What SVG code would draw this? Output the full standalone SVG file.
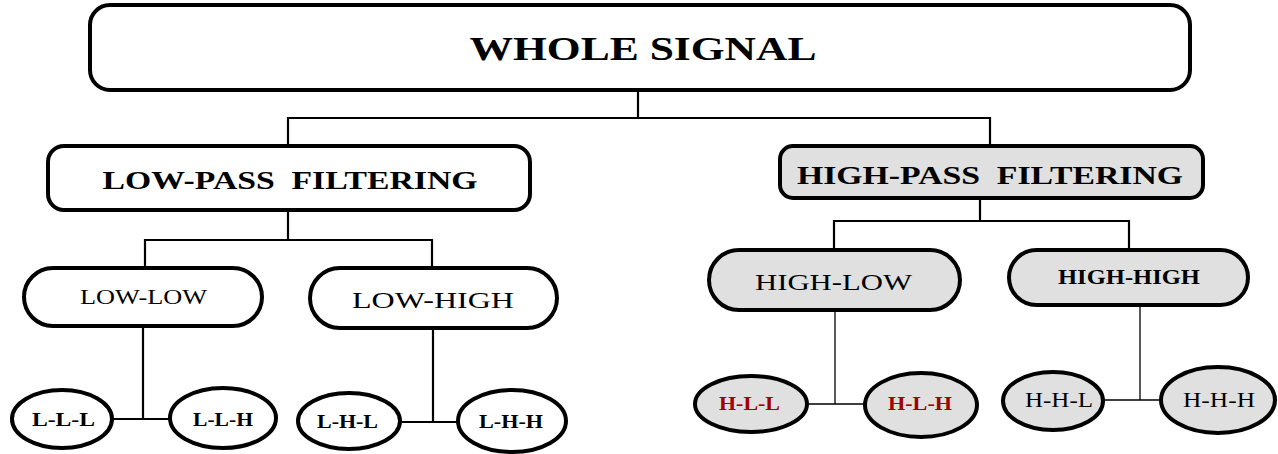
<svg xmlns="http://www.w3.org/2000/svg" width="1278" height="454" viewBox="0 0 1278 454">
<style>
.box{fill:#fff;stroke:#000;stroke-width:4}
.gray{fill:#e0e0e0}
.t{font-family:"Liberation Serif","Times New Roman",serif;text-anchor:middle;fill:#000;white-space:pre}
.b{font-weight:bold}
.red{fill:#a00000}
.c{fill:none;stroke:#000;stroke-width:2.2}
.thin{fill:none;stroke:#000;stroke-width:1.3}
</style>
<rect width="1278" height="454" fill="#fff"/>
<g id="connectors">
<path class="c" d="M638 90V118M288 145V118H990V145"/>
<path class="c" d="M288 210V240M145 268V240H432V268"/>
<path class="c" d="M980 198V221M834 250V221H1129V250"/>
<path class="c" d="M143 326V419M112 419H170"/>
<path class="c" d="M433 328V422M400 422H458"/>
<path class="thin" d="M835 310V404M807 404H865"/>
<path class="thin" d="M1140 305V400M1102 400H1159"/>
</g>
<g id="whole">
<rect class="box" x="90" y="5" width="1100" height="85" rx="20"/>
<text class="t b" x="643" y="60" font-size="34" textLength="347" lengthAdjust="spacingAndGlyphs">WHOLE SIGNAL</text>
</g>
<g id="lowpass">
<rect class="box" x="48" y="146" width="482" height="64" rx="16"/>
<text class="t b" x="290" y="189" font-size="25" textLength="375" lengthAdjust="spacingAndGlyphs">LOW-PASS  FILTERING</text>
</g>
<g id="highpass">
<rect class="box gray" x="780" y="146" width="423" height="52" rx="13"/>
<text class="t b" x="990" y="184" font-size="25" textLength="386" lengthAdjust="spacingAndGlyphs">HIGH-PASS  FILTERING</text>
</g>
<g id="lowlow">
<rect class="box" x="24" y="268" width="238" height="58" rx="29"/>
<text class="t" x="143.5" y="304" font-size="22" textLength="127" lengthAdjust="spacingAndGlyphs">LOW-LOW</text>
</g>
<g id="lowhigh">
<rect class="box" x="310" y="268" width="247" height="60" rx="30"/>
<text class="t" x="433" y="308" font-size="23" textLength="162" lengthAdjust="spacingAndGlyphs">LOW-HIGH</text>
</g>
<g id="highlow">
<rect class="box gray" x="709" y="250" width="251" height="60" rx="30"/>
<text class="t" x="833.5" y="290" font-size="24" textLength="157" lengthAdjust="spacingAndGlyphs">HIGH-LOW</text>
</g>
<g id="highhigh">
<rect class="box gray" x="1009" y="250" width="239" height="55" rx="27.5"/>
<text class="t b" x="1129" y="284" font-size="20" textLength="142" lengthAdjust="spacingAndGlyphs">HIGH-HIGH</text>
</g>
<g id="lll">
<ellipse class="box" cx="62" cy="419" rx="50" ry="29"/>
<text class="t b" x="63.5" y="426" font-size="18" textLength="63" lengthAdjust="spacingAndGlyphs">L-L-L</text>
</g>
<g id="llh">
<ellipse class="box" cx="223" cy="418" rx="53" ry="30"/>
<text class="t b" x="223" y="426" font-size="18" textLength="60" lengthAdjust="spacingAndGlyphs">L-L-H</text>
</g>
<g id="lhl">
<ellipse class="box" cx="349" cy="421" rx="51" ry="28"/>
<text class="t b" x="347.5" y="428" font-size="18" textLength="61" lengthAdjust="spacingAndGlyphs">L-H-L</text>
</g>
<g id="lhh">
<ellipse class="box" cx="512" cy="421" rx="54" ry="31"/>
<text class="t b" x="511" y="428" font-size="18" textLength="64" lengthAdjust="spacingAndGlyphs">L-H-H</text>
</g>
<g id="hll">
<ellipse class="box gray" cx="751" cy="404" rx="56" ry="28"/>
<text class="t b red" x="749.5" y="410" font-size="18" textLength="61" lengthAdjust="spacingAndGlyphs">H-L-L</text>
</g>
<g id="hlh">
<ellipse class="box gray" cx="921" cy="405" rx="56" ry="32"/>
<text class="t b red" x="920" y="410" font-size="18" textLength="64" lengthAdjust="spacingAndGlyphs">H-L-H</text>
</g>
<g id="hhl">
<ellipse class="box gray" cx="1053" cy="401" rx="50" ry="29"/>
<text class="t" x="1059" y="407" font-size="21" textLength="68" lengthAdjust="spacingAndGlyphs">H-H-L</text>
</g>
<g id="hhh">
<ellipse class="box gray" cx="1218" cy="400" rx="57" ry="33"/>
<text class="t" x="1219" y="407" font-size="21" textLength="72" lengthAdjust="spacingAndGlyphs">H-H-H</text>
</g>
</svg>
